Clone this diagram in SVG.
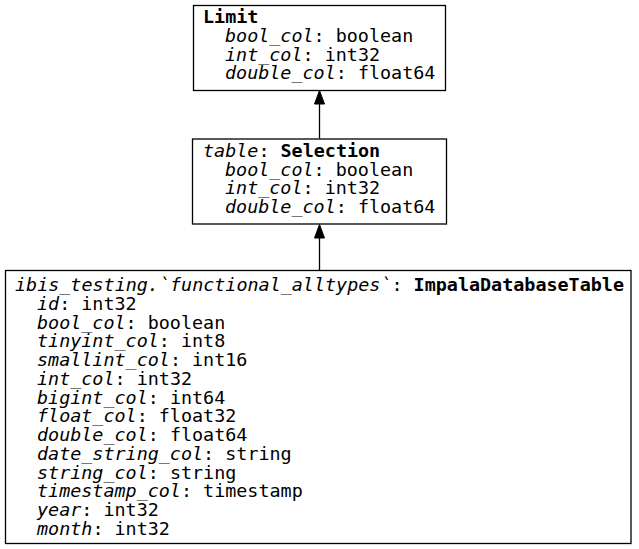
<svg xmlns="http://www.w3.org/2000/svg" width="639" height="549" viewBox="0 0 639 549">
<style>
text{font-family:"DejaVu Sans Mono",monospace;font-size:18.4px;fill:#000}
.i{font-style:italic}
.b{font-weight:bold}
.box{fill:#fff;stroke:#000;stroke-width:1.3}
.edge{stroke:#000;stroke-width:1.3;fill:none}
.head{fill:#000;stroke:#000;stroke-width:1}
</style>
<rect width="639" height="549" fill="#fff"/>
<g id="connectors">
<line class="edge" x1="319.5" y1="138.5" x2="319.5" y2="103"/>
<polygon class="head" points="319.5,90.5 314.5,104 324.5,104"/>
<line class="edge" x1="319.5" y1="270" x2="319.5" y2="237"/>
<polygon class="head" points="319.5,224.5 314.5,238 324.5,238"/>
</g>
<g id="limit">
<rect class="box" x="193.5" y="5.5" width="252" height="85"/>
<text x="203" y="22.5"><tspan class="b">Limit</tspan></text>
<text x="225" y="42"><tspan class="i">bool_col</tspan>: boolean</text>
<text x="225" y="60.5"><tspan class="i">int_col</tspan>: int32</text>
<text x="225" y="79"><tspan class="i">double_col</tspan>: float64</text>
</g>
<g id="selection">
<rect class="box" x="192.5" y="139" width="254" height="85"/>
<text x="203" y="157"><tspan class="i">table</tspan>: <tspan class="b">Selection</tspan></text>
<text x="225" y="175.5"><tspan class="i">bool_col</tspan>: boolean</text>
<text x="225" y="194"><tspan class="i">int_col</tspan>: int32</text>
<text x="225" y="212.5"><tspan class="i">double_col</tspan>: float64</text>
</g>
<g id="table">
<rect class="box" x="5.5" y="270.5" width="625.5" height="273"/>
<text x="15" y="291"><tspan class="i">ibis_testing.`functional_alltypes`</tspan>: <tspan class="b">ImpalaDatabaseTable</tspan></text>
<text x="37" y="309.75"><tspan class="i">id</tspan>: int32</text>
<text x="37" y="328.5"><tspan class="i">bool_col</tspan>: boolean</text>
<text x="37" y="347.25"><tspan class="i">tinyint_col</tspan>: int8</text>
<text x="37" y="366"><tspan class="i">smallint_col</tspan>: int16</text>
<text x="37" y="384.75"><tspan class="i">int_col</tspan>: int32</text>
<text x="37" y="403.5"><tspan class="i">bigint_col</tspan>: int64</text>
<text x="37" y="422.25"><tspan class="i">float_col</tspan>: float32</text>
<text x="37" y="441"><tspan class="i">double_col</tspan>: float64</text>
<text x="37" y="459.75"><tspan class="i">date_string_col</tspan>: string</text>
<text x="37" y="478.5"><tspan class="i">string_col</tspan>: string</text>
<text x="37" y="497.25"><tspan class="i">timestamp_col</tspan>: timestamp</text>
<text x="37" y="516"><tspan class="i">year</tspan>: int32</text>
<text x="37" y="534.75"><tspan class="i">month</tspan>: int32</text>
</g>
</svg>
